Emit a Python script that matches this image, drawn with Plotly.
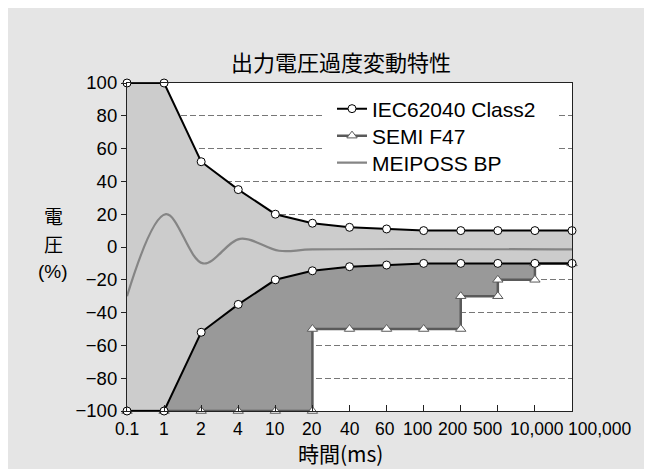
import plotly.graph_objects as go

# ---- data ----
time_labels = ["0.1", "1", "2", "4", "10", "20", "40", "60", "100", "200", "500", "10,000", "100,000"]
time_idx = list(range(len(time_labels)))
iec_upper = [100, 100, 52, 35, 20, 14.5, 12, 11, 10, 10, 10, 10, 10]
iec_lower = [-100, -100, -52, -35, -20, -14.5, -12, -11, -10, -10, -10, -10, -10]
semi_x = [0, 1, 2, 3, 4, 5, 5, 6, 7, 8, 9, 9, 10, 10, 11, 11, 12]
semi_y = [-100, -100, -100, -100, -100, -100, -50, -50, -50, -50, -50, -30, -30, -20, -20, -10, -10]
meiposs_x = [0, 1.05, 2.05, 3.05, 4.1, 5, 12]
meiposs_y = [-30, 20, -10, 5, -2.3, -1.5, -1.5]
y_ticks = [100, 80, 60, 40, 20, 0, -20, -40, -60, -80, -100]
# centres of the x tick labels as laid out in the reference (in category units)
label_pos = [0, 1, 2, 3, 4, 5, 6, 6.95, 7.83, 8.78, 9.72, 11.05, 12.75]

W, H = 652, 469
OFF = 8  # page offset of the figure (body margin)
ML, MT = 127 - OFF, 83 - OFF
MR = W - (572 - OFF)
MB = H - (411 - OFF)
PW, PH = W - ML - MR, H - MT - MB
X_MAX = len(time_labels) - 1

def px_x(p):  # page px -> paper x
    return (p - OFF - ML) / PW

def px_y(p):  # page px -> paper y
    return (H - MB - (p - OFF)) / PH

LAT = "Liberation Sans, Arial, sans-serif"
CJK = "Noto Sans CJK JP, sans-serif"

LIGHT = "#cccccc"
DARK = "#999999"

fig = go.Figure()

# light gray band between IEC limits
fig.add_trace(go.Scatter(x=time_idx, y=iec_lower, mode="lines", line=dict(width=0),
                         showlegend=False, hoverinfo="skip"))
fig.add_trace(go.Scatter(x=time_idx, y=iec_upper, mode="lines", line=dict(width=0),
                         fill="tonexty", fillcolor=LIGHT, showlegend=False, hoverinfo="skip"))
# dark gray band between SEMI F47 and IEC lower limit
fig.add_trace(go.Scatter(x=semi_x, y=semi_y, mode="lines", line=dict(width=0),
                         showlegend=False, hoverinfo="skip"))
fig.add_trace(go.Scatter(x=time_idx, y=iec_lower, mode="lines", line=dict(width=0),
                         fill="tonexty", fillcolor=DARK, showlegend=False, hoverinfo="skip"))

# MEIPOSS BP
fig.add_trace(go.Scatter(x=meiposs_x, y=meiposs_y, mode="lines", name="MEIPOSS BP",
                         line=dict(color="#858585", width=2.2, shape="spline"),
                         legend="legend3", cliponaxis=False))
# SEMI F47
fig.add_trace(go.Scatter(x=semi_x, y=semi_y, mode="lines+markers", name="SEMI F47",
                         line=dict(color="#5a5a5a", width=2.5),
                         marker=dict(symbol="triangle-up", size=9, color="white",
                                     line=dict(color="#5a5a5a", width=1)),
                         legend="legend2", cliponaxis=False))
# IEC62040 Class2
fig.add_trace(go.Scatter(x=time_idx, y=iec_upper, mode="lines+markers", name="IEC62040 Class2",
                         line=dict(color="black", width=2),
                         marker=dict(symbol="circle", size=8, color="white",
                                     line=dict(color="black", width=1)),
                         legend="legend", cliponaxis=False))
fig.add_trace(go.Scatter(x=time_idx, y=iec_lower, mode="lines+markers", name="IEC62040 Class2",
                         line=dict(color="black", width=2),
                         marker=dict(symbol="circle", size=8, color="white",
                                     line=dict(color="black", width=1)),
                         showlegend=False, cliponaxis=False))

leg_common = dict(font=dict(family=LAT, size=21, color="black"), bgcolor="rgba(0,0,0,0)",
                  borderwidth=0, xanchor="left", yanchor="middle", x=px_x(332),
                  itemclick=False, itemdoubleclick=False)

fig.update_layout(
    width=W, height=H,
    margin=dict(l=ML, r=MR, t=MT, b=MB, pad=0),
    paper_bgcolor="#e5e5e5",
    plot_bgcolor="white",
    title=dict(text="出力電圧過度変動特性", font=dict(family=CJK, size=22, color="black"),
               x=(341 - OFF) / W, xref="container", xanchor="center",
               y=1 - (63 - OFF) / H, yref="container", yanchor="middle"),
    legend=dict(**leg_common, y=px_y(109)),
    legend2=dict(**leg_common, y=px_y(136)),
    legend3=dict(**leg_common, y=px_y(163)),
    xaxis=dict(range=[0, X_MAX], tickvals=time_idx, showticklabels=False,
               ticks="inside", ticklen=6, tickcolor="#222", tickwidth=1,
               showgrid=False, zeroline=False,
               showline=True, mirror=True, linecolor="#222", linewidth=1.2),
    yaxis=dict(range=[-100, 100], tickvals=y_ticks, ticks="outside", ticklen=5,
               tickcolor="#222", tickwidth=1,
               tickfont=dict(family=LAT, size=18.5, color="black"),
               showgrid=True, gridcolor="#777777", gridwidth=1, griddash="6px,3px",
               zeroline=False, showline=True, mirror=True, linecolor="#222", linewidth=1.2),
    showlegend=True,
)

# x tick labels (laid out as in the reference; the last one sits past the frame)
for lbl, pos in zip(time_labels, label_pos):
    fig.add_annotation(text=lbl, xref="paper", yref="paper", x=pos / X_MAX, y=px_y(429),
                       xanchor="center", yanchor="middle", showarrow=False,
                       font=dict(family=LAT, size=17.5, color="black"))

# white legend box covering the grid lines
xs = PW / X_MAX
fig.add_shape(type="rect", xref="x", yref="y",
              x0=(323 - OFF - ML) / xs, x1=(558 - OFF - ML) / xs,
              y0=43, y1=95, fillcolor="white", line=dict(width=0), layer="between")

# y axis title (stacked)
for txt, ypx, fam in [("電", 215, CJK), ("圧", 243, CJK), ("(%)", 271, LAT)]:
    fig.add_annotation(text=txt, xref="paper", yref="paper", x=px_x(53), y=px_y(ypx),
                       xanchor="center", yanchor="middle", showarrow=False,
                       font=dict(family=fam, size=19, color="black"))
# x axis title
fig.add_annotation(text="時間(ms)", xref="paper", yref="paper", x=px_x(340), y=px_y(453),
                   xanchor="center", yanchor="middle", showarrow=False,
                   font=dict(family=CJK, size=21, color="black"))

fig.write_html("out.html")
